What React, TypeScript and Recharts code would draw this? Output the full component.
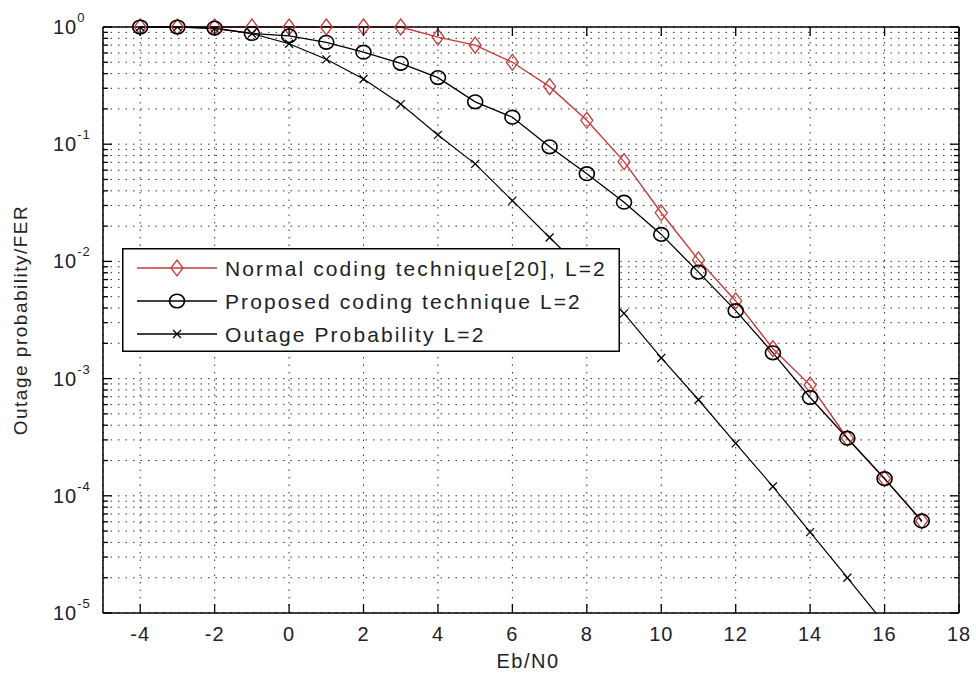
import React from 'react';
import { LineChart, Line, XAxis, YAxis, CartesianGrid, Legend } from 'recharts';

// Eb/N0 in dB, one entry per simulated point
const EBN0 = [-4, -3, -2, -1, 0, 1, 2, 3, 4, 5, 6, 7, 8, 9, 10, 11, 12, 13, 14, 15, 16, 17];

const NORMAL = [
  1, 1, 1, 1, 1, 1, 1, 1, 0.82, 0.7, 0.5, 0.31, 0.16, 0.071, 0.026, 0.0103, 0.0046, 0.0018,
  0.00088, 0.00031, 0.00014, 0.000061,
];
const PROPOSED = [
  1, 1, 0.98, 0.88, 0.84, 0.74, 0.61, 0.49, 0.37, 0.23, 0.17, 0.095, 0.056, 0.032, 0.017, 0.0081,
  0.0038, 0.00166, 0.00069, 0.00031, 0.00014, 0.000061,
];
// last point sits below 1e-5 and gets clipped by the axes box
const OUTAGE = [
  1, 1, 0.97, 0.88, 0.72, 0.53, 0.36, 0.22, 0.12, 0.068, 0.033, 0.016, 0.0078, 0.0036, 0.0015,
  0.00066, 0.00028, 0.00012, 0.000049, 0.00002, 0.0000081,
];

const X_TICKS = [-4, -2, 0, 2, 4, 6, 8, 10, 12, 14, 16, 18];
const Y_DECADES = [1e-5, 1e-4, 1e-3, 1e-2, 1e-1, 1];
const Y_EXPONENTS = ['-5', '-4', '-3', '-2', '-1', '0'];
const MINOR_STEPS = [2, 3, 4, 5, 6, 7, 8, 9];

const LEGEND_LABELS = [
  'Normal coding technique[20], L=2',
  'Proposed coding technique L=2',
  'Outage Probability L=2',
];

const Y_TICKS = Y_DECADES.flatMap((d, i) =>
  i < Y_DECADES.length - 1 ? [d, ...MINOR_STEPS.map((m) => d * m)] : [d],
);

const rows = EBN0.map((x, i) => ({
  x,
  normal: NORMAL[i],
  proposed: PROPOSED[i],
  outage: OUTAGE[i],
}));

const RED = '#c93a3a';
const FONT = '"Liberation Sans", Arial, Helvetica, sans-serif';
const TXT = 20;

function Diamond({ cx, cy }: { cx: number; cy: number }) {
  return (
    <polygon
      points={`${cx},${cy - 8} ${cx + 6},${cy} ${cx},${cy + 8} ${cx - 6},${cy}`}
      fill="none"
      stroke={RED}
      strokeWidth={1.3}
    />
  );
}

function Ring({ cx, cy }: { cx: number; cy: number }) {
  return <ellipse cx={cx} cy={cy} rx={7.5} ry={6.8} fill="none" stroke="#000" strokeWidth={1.6} />;
}

function Cross({ cx, cy }: { cx: number; cy: number }) {
  return (
    <g stroke="#000" strokeWidth={1.2}>
      <line x1={cx - 4} y1={cy - 4} x2={cx + 4} y2={cy + 4} />
      <line x1={cx - 4} y1={cy + 4} x2={cx + 4} y2={cy - 4} />
    </g>
  );
}

const diamondDot = (p: any) =>
  p.cx == null || p.cy == null ? <g key={p.index} /> : <Diamond key={p.index} cx={p.cx} cy={p.cy} />;
const ringDot = (p: any) =>
  p.cx == null || p.cy == null ? <g key={p.index} /> : <Ring key={p.index} cx={p.cx} cy={p.cy} />;
const crossDot = (p: any) =>
  p.cx == null || p.cy == null ? <g key={p.index} /> : <Cross key={p.index} cx={p.cx} cy={p.cy} />;

// inward ticks, MATLAB style
const BottomTick = (props: any) => {
  const { x, y, payload } = props;
  return (
    <g>
      <line x1={x} y1={y} x2={x} y2={y - 9} stroke="#000" strokeWidth={1.3} />
      <text x={x} y={y + 28} textAnchor="middle" fontSize={TXT} fontFamily={FONT} letterSpacing={1} fill="#222">
        {payload.value}
      </text>
    </g>
  );
};

const TopTick = (props: any) => {
  const { x, y } = props;
  return <line x1={x} y1={y} x2={x} y2={y + 9} stroke="#000" strokeWidth={1.3} />;
};

const LeftTick = (props: any) => {
  const { x, y, payload } = props;
  const idx = Y_DECADES.indexOf(payload.value);
  const major = idx >= 0;
  return (
    <g>
      <line x1={x} y1={y} x2={x + (major ? 9 : 5)} y2={y} stroke="#000" strokeWidth={1.3} />
      {major && (
        <text x={x - 50} y={y + 7} fontSize={TXT} fontFamily={FONT} letterSpacing={1} fill="#222">
          10
          <tspan dy={-12} fontSize={13}>
            {Y_EXPONENTS[idx]}
          </tspan>
        </text>
      )}
    </g>
  );
};

const RightTick = (props: any) => {
  const { x, y, payload } = props;
  const major = Y_DECADES.indexOf(payload.value) >= 0;
  return <line x1={x} y1={y} x2={x - (major ? 9 : 5)} y2={y} stroke="#000" strokeWidth={1.3} />;
};

const YTitle = (props: any) => {
  const { viewBox } = props;
  const x = viewBox.x - 75;
  const y = viewBox.y + viewBox.height / 2;
  return (
    <text
      transform={`translate(${x},${y}) rotate(-90)`}
      textAnchor="middle"
      fontSize={19}
      fontFamily={FONT}
      letterSpacing={1.5}
      fill="#222"
    >
      Outage probability/FER
    </text>
  );
};

const XTitle = (props: any) => {
  const { viewBox } = props;
  return (
    <text
      x={viewBox.x + viewBox.width / 2 - 3}
      y={viewBox.y + 55}
      textAnchor="middle"
      fontSize={TXT}
      fontFamily={FONT}
      letterSpacing={1.5}
      fill="#222"
    >
      Eb/N0
    </text>
  );
};

function LegendBox() {
  const marks = [Diamond, Ring, Cross];
  const colors = [RED, '#000', '#000'];
  return (
    <svg width={498} height={104} style={{ display: 'block' }}>
      <rect x={0.75} y={0.75} width={496.5} height={102.5} fill="#fff" stroke="#000" strokeWidth={1.5} />
      {LEGEND_LABELS.map((label, i) => {
        const cy = 20 + i * 33;
        const Mark = marks[i];
        return (
          <g key={label}>
            <line x1={15} y1={cy} x2={95} y2={cy} stroke={colors[i]} strokeWidth={1.4} />
            <Mark cx={55} cy={cy} />
            <text x={103} y={cy + 7.5} fontSize={21} fontFamily={FONT} letterSpacing={2.1} fill="#222">
              {label}
            </text>
          </g>
        );
      })}
    </svg>
  );
}

const axisLine = { stroke: '#000', strokeWidth: 1.5 };

export default function App() {
  return (
    <div style={{ position: 'absolute', left: 0, top: 0, background: '#fff' }}>
      <LineChart width={976} height={673} data={rows} margin={{ top: 26, right: 16, bottom: 59, left: 102 }}>
        <CartesianGrid xAxisId={0} yAxisId="left" stroke="#333" strokeWidth={1} strokeDasharray="1.5 6" />
        <XAxis
          dataKey="x"
          type="number"
          domain={[-5, 18]}
          ticks={X_TICKS}
          interval={0}
          height={1}
          tickSize={0}
          tickMargin={0}
          tickLine={false}
          axisLine={axisLine}
          tick={BottomTick}
          label={<XTitle />}
        />
        <XAxis
          xAxisId="top"
          orientation="top"
          dataKey="x"
          type="number"
          domain={[-5, 18]}
          allowDataOverflow
          ticks={X_TICKS}
          interval={0}
          height={1}
          tickSize={0}
          tickMargin={0}
          tickLine={false}
          axisLine={axisLine}
          tick={TopTick}
        />
        <YAxis
          yAxisId="left"
          type="number"
          scale="log"
          domain={[1e-5, 1]}
          ticks={Y_TICKS}
          interval={0}
          width={1}
          tickSize={0}
          tickMargin={0}
          tickLine={false}
          axisLine={axisLine}
          tick={LeftTick}
          label={<YTitle />}
        />
        <YAxis
          yAxisId="right"
          orientation="right"
          type="number"
          scale="log"
          domain={[1e-5, 1]}
          allowDataOverflow
          ticks={Y_TICKS}
          interval={0}
          width={1}
          tickSize={0}
          tickMargin={0}
          tickLine={false}
          axisLine={axisLine}
          tick={RightTick}
        />
        <Legend
          layout="horizontal"
          verticalAlign="middle"
          align="center"
          wrapperStyle={{ left: 122, top: 248, width: 498, height: 104 }}
          content={<LegendBox />}
        />
        <Line
          yAxisId="left"
          type="linear"
          dataKey="normal"
          name={LEGEND_LABELS[0]}
          stroke={RED}
          strokeWidth={1.4}
          dot={diamondDot}
          activeDot={false}
          isAnimationActive={false}
        />
        <Line
          yAxisId="left"
          type="linear"
          dataKey="proposed"
          name={LEGEND_LABELS[1]}
          stroke="#000"
          strokeWidth={1.3}
          dot={ringDot}
          activeDot={false}
          isAnimationActive={false}
        />
        <Line
          yAxisId="right"
          type="linear"
          dataKey="outage"
          name={LEGEND_LABELS[2]}
          stroke="#000"
          strokeWidth={1.2}
          dot={crossDot}
          activeDot={false}
          isAnimationActive={false}
        />
      </LineChart>
    </div>
  );
}
